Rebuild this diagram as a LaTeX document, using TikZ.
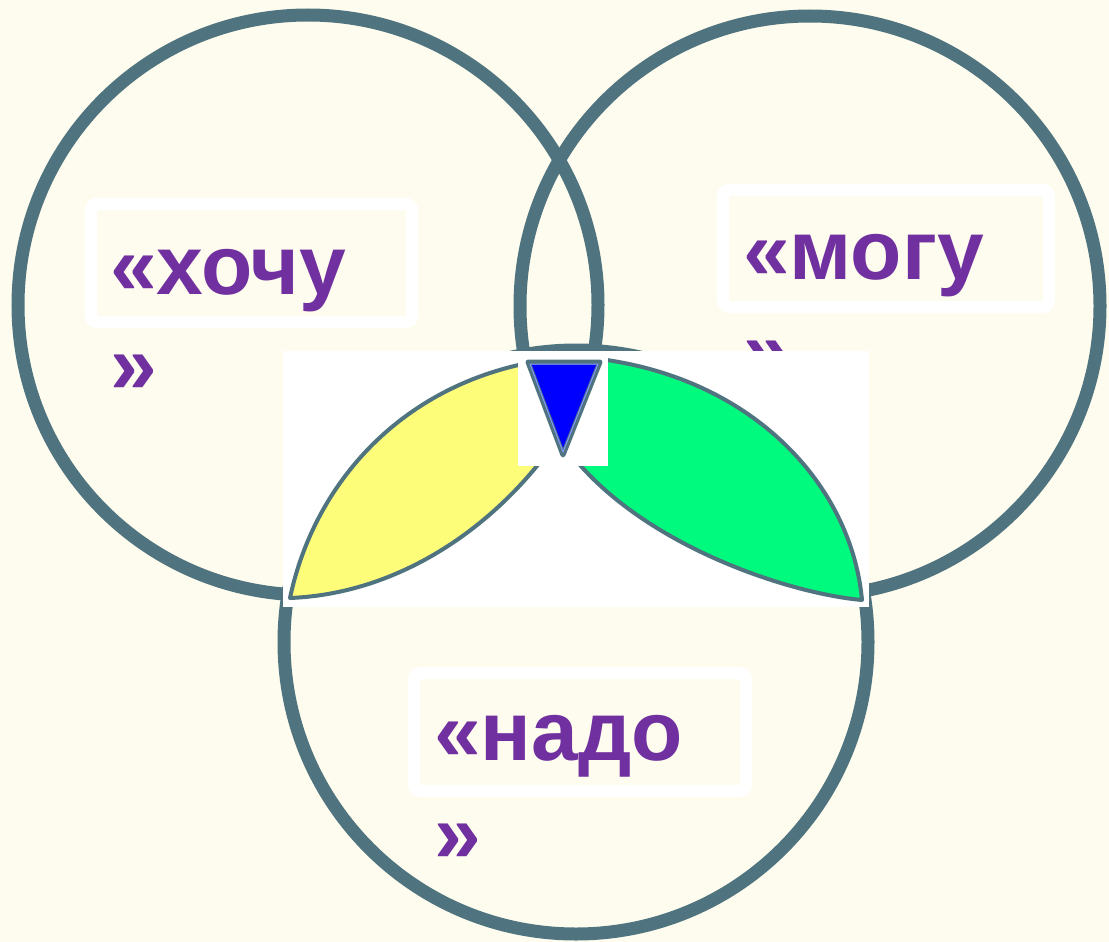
\documentclass[tikz,border=0pt]{standalone}
\usepackage{fontspec}
\setmainfont{Liberation Sans}
\definecolor{bgc}{RGB}{254,252,238}
\definecolor{slate}{RGB}{79,116,127}
\definecolor{purp}{RGB}{112,48,160}
\definecolor{leafy}{RGB}{253,253,122}
\definecolor{leafg}{RGB}{0,250,126}
\definecolor{lblue}{RGB}{130,150,255}
\tikzset{
  ring/.style={draw=slate,line width=13pt},
  tbox/.style={draw=white,fill=bgc,line width=12pt,rounded corners=6pt},
  lbl/.style={text=purp,font=\fontsize{84}{100}\selectfont\bfseries,inner sep=0pt,anchor=base west},
  leaf/.style={draw=slate,line width=4pt,line join=round}
}
\begin{document}
\begin{tikzpicture}[x=1pt,y=-1pt]
\fill[bgc] (0,0) rectangle (1109,942);
\useasboundingbox (0,0) rectangle (1109,942);
% circles
\draw[ring] (308,305) circle (290);
\draw[ring] (810,306) circle (290);
\draw[ring] (576,642) circle (292);
% text boxes
\draw[tbox] (91,204) rectangle (412,322);
\draw[tbox] (723,190) rectangle (1049,307);
\draw[tbox] (414,673) rectangle (746,791);
% labels
\node[lbl] (t1) at (110,294) {«хочу};
\node[lbl] (t1b) at (110,393) {»};
\node[lbl] (t2) at (743,279) {«могу};
\node[lbl] (t2b) at (743,379) {»};
\node[lbl] (t3) at (434,760) {«надо};
\node[lbl] (t3b) at (434,862) {»};
% picture
\fill[white] (283,351) rectangle (869,607);
\draw[leaf,fill=leafy] (290,598) .. controls (318,465) and (430,356) .. (600,356)
  .. controls (560,470) and (440,592) .. (290,598) -- cycle;
\draw[leaf,fill=leafg] (528,356) .. controls (725,348) and (850,470) .. (862,600)
  .. controls (770,592) and (548,515) .. (528,356) -- cycle;
\fill[white] (518,352) rectangle (608,466);
\draw[draw=slate,line width=5pt,line join=round,fill=blue] (528,362) -- (600,362) -- (563,455) -- cycle;
\draw[draw=lblue,line width=1pt,line join=round] (530,364) -- (598,364) -- (563,452) -- cycle;
\end{tikzpicture}
\end{document}
